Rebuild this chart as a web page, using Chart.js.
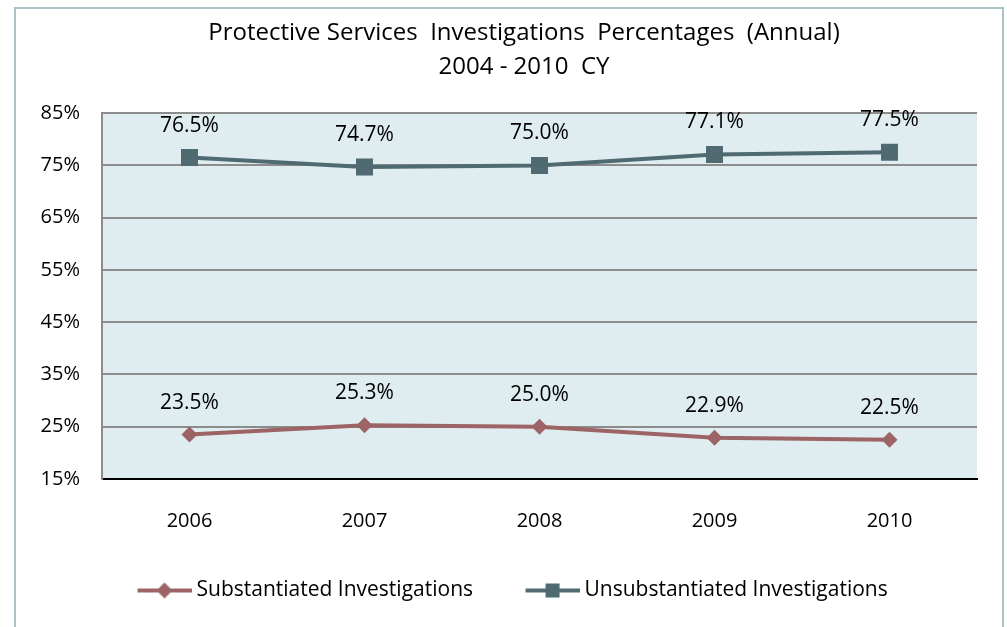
<!DOCTYPE html>
<html>
<head>
<meta charset="utf-8">
<script src="https://cdn.jsdelivr.net/npm/chart.js@4"></script>
<style>
  html, body { margin: 0; padding: 0; background: #fff; }
  #wrap { width: 1007px; height: 627px; }
</style>
</head>
<body>
<div id="wrap"><canvas id="invChart" width="1007" height="627"></canvas></div>
<script>
const years = ['2006', '2007', '2008', '2009', '2010'];
const substantiated = [23.5, 25.3, 25.0, 22.9, 22.5];
const unsubstantiated = [76.5, 74.7, 75.0, 77.1, 77.5];
const yTicks = [15, 25, 35, 45, 55, 65, 75, 85];

const FONT = "'Open Sans', 'Noto Sans', sans-serif";
const subColour = '#9c6464';
const unsubColour = '#4f6a71';
const LEAD = 45; // blank space before each legend line

// legend swatch: blank lead-in, then a line with the marker in the middle
function legendSwatch(colour, shape) {
  const c = document.createElement('canvas');
  c.width = LEAD + 54; c.height = 20;
  const ctx = c.getContext('2d');
  const mid = LEAD + 27;
  ctx.strokeStyle = colour;
  ctx.fillStyle = colour;
  ctx.lineWidth = 4;
  ctx.beginPath();
  ctx.moveTo(LEAD, 10); ctx.lineTo(LEAD + 54, 10);
  ctx.stroke();
  if (shape === 'diamond') {
    ctx.beginPath();
    ctx.moveTo(mid, 2); ctx.lineTo(mid + 8, 10); ctx.lineTo(mid, 18); ctx.lineTo(mid - 8, 10);
    ctx.closePath(); ctx.fill();
  } else {
    ctx.fillRect(mid - 7, 3, 14, 14);
  }
  return c;
}

const chartBox = {
  id: 'chartBox',
  afterLayout(chart) {
    // the title sits a bit right of the canvas centre, the legend starts further in
    chart.titleBlock.left = 71;
    chart.legend.left = 85;
  },
  beforeDraw(chart) {
    const ctx = chart.ctx;
    const a = chart.chartArea;
    ctx.save();
    ctx.fillStyle = '#dfecf0';
    ctx.fillRect(a.left, a.top, a.right - a.left, a.bottom - a.top);
    ctx.strokeStyle = '#a9c4c9';
    ctx.lineWidth = 2;
    ctx.strokeRect(15, 8, 988, 640);
    ctx.restore();
  }
};

const valueLabels = {
  id: 'valueLabels',
  afterDatasetsDraw(chart) {
    const ctx = chart.ctx;
    ctx.save();
    ctx.font = '21px ' + FONT;
    ctx.fillStyle = '#000';
    ctx.textAlign = 'center';
    ctx.textBaseline = 'middle';
    chart.data.datasets.forEach((ds, i) => {
      chart.getDatasetMeta(i).data.forEach((pt, j) => {
        ctx.fillText(ds.data[j].toFixed(1) + '%', pt.x, pt.y - 32);
      });
    });
    ctx.restore();
  }
};

new Chart('invChart', {
  type: 'line',
  data: {
    labels: years,
    datasets: [{
      label: 'Substantiated Investigations',
      data: substantiated,
      borderColor: subColour,
      backgroundColor: subColour,
      borderWidth: 4,
      pointStyle: 'rectRot',
      pointRadius: 8,
      pointHoverRadius: 8,
      pointBorderWidth: 0,
      legendSwatch: legendSwatch(subColour, 'diamond')
    }, {
      label: 'Unsubstantiated Investigations',
      data: unsubstantiated,
      borderColor: unsubColour,
      backgroundColor: unsubColour,
      borderWidth: 4,
      pointStyle: 'rect',
      pointRadius: 12,
      pointHoverRadius: 12,
      pointBorderWidth: 0,
      legendSwatch: legendSwatch(unsubColour, 'square')
    }]
  },
  options: {
    responsive: false,
    animation: false,
    layout: { padding: { left: 14, right: 30, top: 0, bottom: 16 } },
    plugins: {
      title: {
        display: true,
        text: ['Protective Services  Investigations  Percentages  (Annual)', '2004 - 2010  CY'],
        color: '#000',
        font: { family: FONT, size: 24, weight: 'normal', lineHeight: 1.42 },
        padding: { top: 16, bottom: 29 }
      },
      legend: {
        position: 'bottom',
        align: 'start',
        labels: {
          color: '#000',
          font: { family: FONT, size: 21 },
          usePointStyle: true,
          boxHeight: 21,
          pointStyleWidth: LEAD + 43,
          padding: 13,
          generateLabels(chart) {
            return chart.data.datasets.map((ds, i) => ({
              text: ds.label,
              fontColor: '#000',
              pointStyle: ds.legendSwatch,
              datasetIndex: i,
              lineWidth: 0
            }));
          }
        }
      },
      tooltip: { enabled: false }
    },
    scales: {
      x: {
        offset: true,
        grid: { display: false },
        border: { color: '#000', width: 2 },
        ticks: { color: '#000', font: { family: FONT, size: 20 }, padding: 22 },
        afterFit(axis) { axis.height += 12; }
      },
      y: {
        min: 15,
        max: 85,
        afterBuildTicks(axis) { axis.ticks = yTicks.map(v => ({ value: v })); },
        afterFit(axis) { axis.width = 88; },
        grid: { color: '#8c8c8c', lineWidth: 2, drawTicks: false },
        border: { color: '#8c8c8c', width: 2 },
        ticks: {
          color: '#000',
          font: { family: FONT, size: 20 },
          padding: 22,
          callback: v => v + '%'
        }
      }
    }
  },
  plugins: [chartBox, valueLabels]
});
</script>
</body>
</html>
